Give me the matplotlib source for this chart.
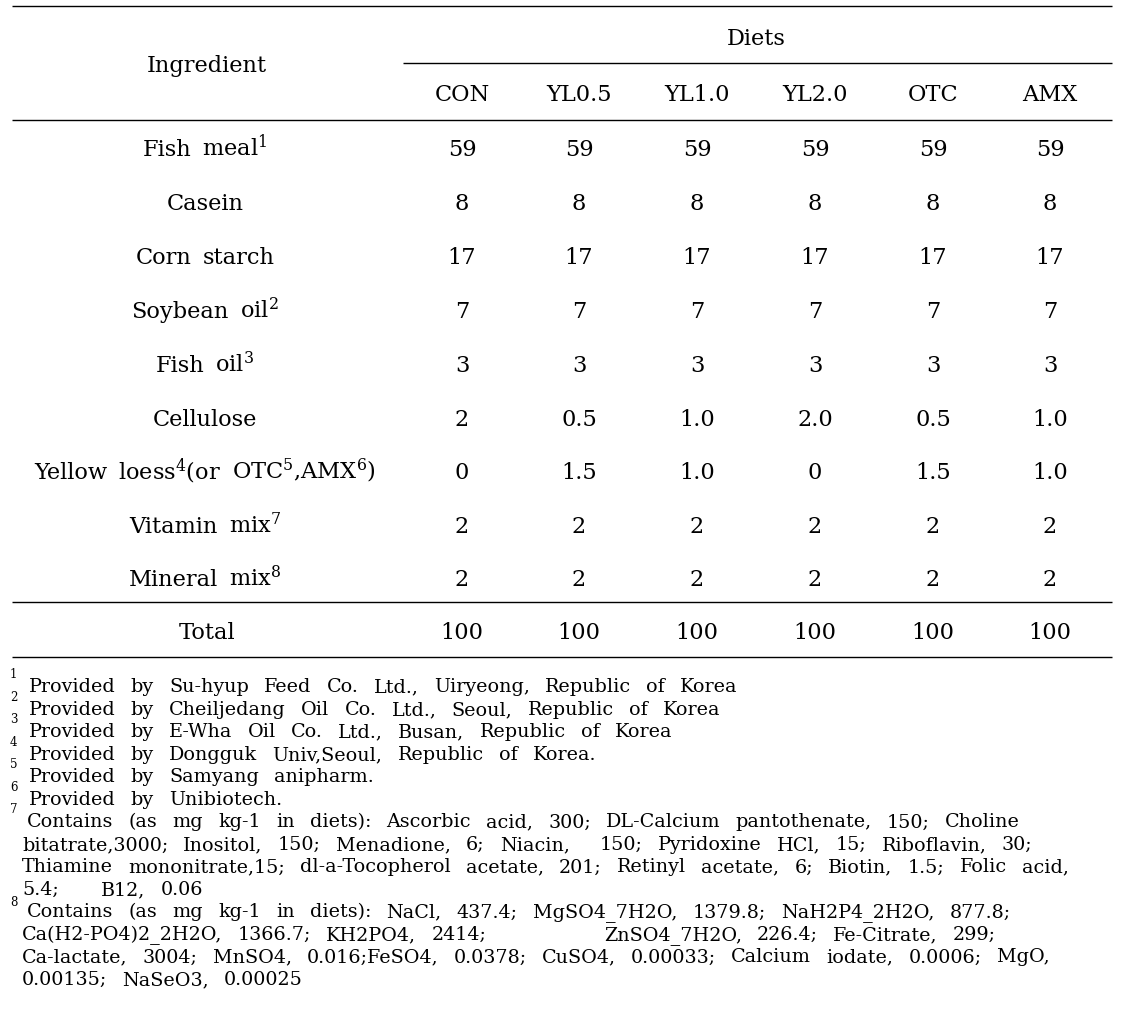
import matplotlib
matplotlib.use("Agg")
import matplotlib.pyplot as plt

plt.rcParams['font.family'] = ['DejaVu Serif']
plt.rcParams['mathtext.fontset'] = 'dejavuserif'

# ---- data ----
diets = ["CON", "YL0.5", "YL1.0", "YL2.0", "OTC", "AMX"]
ingredients = [r"Fish meal$^1$", "Casein", "Corn starch",
               r"Soybean oil$^2$", r"Fish oil$^3$", "Cellulose",
               r"Yellow loess$^4$(or OTC$^5$,AMX$^6$)",
               r"Vitamin mix$^7$", r"Mineral mix$^8$"]
con = ["59", "8", "17", "7", "3", "2", "0", "2", "2"]
yl05 = ["59", "8", "17", "7", "3", "0.5", "1.5", "2", "2"]
yl10 = ["59", "8", "17", "7", "3", "1.0", "1.0", "2", "2"]
yl20 = ["59", "8", "17", "7", "3", "2.0", "0", "2", "2"]
otc = ["59", "8", "17", "7", "3", "0.5", "1.5", "2", "2"]
amx = ["59", "8", "17", "7", "3", "1.0", "1.0", "2", "2"]
totals = ["100", "100", "100", "100", "100", "100"]

# footnotes: (marker, list of lines; each line = list of (text, x))
footnotes = [
    ("1", [[("Provided by Su-hyup Feed Co. Ltd., Uiryeong, Republic of Korea", 29)]]),
    ("2", [[("Provided by Cheiljedang Oil Co. Ltd., Seoul, Republic of Korea", 29)]]),
    ("3", [[("Provided by E-Wha Oil Co. Ltd., Busan, Republic of Korea", 29)]]),
    ("4", [[("Provided by Dongguk Univ,Seoul, Republic of Korea.", 29)]]),
    ("5", [[("Provided by Samyang anipharm.", 29)]]),
    ("6", [[("Provided by Unibiotech.", 29)]]),
    ("7", [
        [("Contains (as mg kg-1 in diets): Ascorbic acid, 300; DL-Calcium pantothenate, 150; Choline", 27)],
        [("bitatrate,3000; Inositol, 150; Menadione, 6; Niacin,", 22), ("150; Pyridoxine HCl, 15; Riboflavin, 30;", 600)],
        [("Thiamine mononitrate,15; dl-a-Tocopherol acetate, 201; Retinyl acetate, 6; Biotin, 1.5; Folic acid,", 22)],
        [("5.4;", 22), ("B12, 0.06", 101)],
    ]),
    ("8", [
        [("Contains (as mg kg-1 in diets): NaCl, 437.4; MgSO4_7H2O, 1379.8; NaH2P4_2H2O, 877.8;", 27)],
        [("Ca(H2-PO4)2_2H2O, 1366.7; KH2PO4, 2414;", 22), ("ZnSO4_7H2O, 226.4; Fe-Citrate, 299;", 604)],
        [("Ca-lactate, 3004; MnSO4, 0.016;FeSO4, 0.0378; CuSO4, 0.00033; Calcium iodate, 0.0006; MgO,", 22)],
        [("0.00135; NaSeO3, 0.00025", 22)],
    ]),
]

# ---- layout ----
W, H = 1138, 1020
fig = plt.figure(figsize=(W / 100, H / 100), dpi=100)
ax = fig.add_axes([0, 0, 1, 1])
ax.set_xlim(0, W)
ax.set_ylim(H, 0)
ax.axis("off")
renderer = fig.canvas.get_renderer()

FS = 16.2      # table font size
FFS = 13.8     # footnote font size
BODY_SPACE = 11.0


def words_line(x, y, text, fs, space, ha="left"):
    """Draw text word by word with a given inter-word gap (pixels)."""
    words = text.split(" ")
    objs = [ax.text(0, y, w, fontsize=fs, ha="left", va="baseline") for w in words]
    widths = [o.get_window_extent(renderer).width for o in objs]
    total = sum(widths) + space * (len(words) - 1)
    if ha == "center":
        x = x - total / 2
    cx = x
    for o, w in zip(objs, widths):
        o.set_x(cx)
        cx += w + space
    return objs, widths


def measure_words(text, fs):
    words = text.split(" ")
    tot = 0
    for w in words:
        t = ax.text(0, 0, w, fontsize=fs)
        tot += t.get_window_extent(renderer).width
        t.remove()
    return tot, len(words) - 1


col_x = [462, 579, 697, 815, 933, 1050]
ing_x = 205
row_y = [148, 202, 256, 310, 364, 418, 471, 525, 578]
BOFF = 8.0  # baseline offset from visual centre

lw = 1.0
for (x0, x1, yy) in [(12, 1112, 7), (403, 1112, 64), (12, 1112, 121),
                     (12, 1112, 603), (12, 1112, 658)]:
    ax.plot([x0, x1], [yy, yy], color="black", lw=lw, solid_capstyle="butt")

words_line(207, 64 + BOFF, "Ingredient", FS, BODY_SPACE, ha="center")
words_line(756, 37 + BOFF, "Diets", FS, BODY_SPACE, ha="center")
for x, d in zip(col_x, diets):
    words_line(x, 93 + BOFF, d, FS, BODY_SPACE, ha="center")

series = [con, yl05, yl10, yl20, otc, amx]
for i, (y, ing) in enumerate(zip(row_y, ingredients)):
    words_line(ing_x, y + BOFF, ing, FS, BODY_SPACE, ha="center")
    for x, s in zip(col_x, series):
        words_line(x, y + BOFF, s[i], FS, BODY_SPACE, ha="center")

words_line(207, 631 + BOFF, "Total", FS, BODY_SPACE, ha="center")
for x, t in zip(col_x, totals):
    words_line(x, 631 + BOFF, t, FS, BODY_SPACE, ha="center")

# footnote word gap calibrated so that the first line of note 7 ends near x=1020
ref_txt, ref_x = footnotes[6][1][0][0]
wsum, nsp = measure_words(ref_txt, FFS)
FN_SPACE = (1020 - ref_x - wsum) / nsp

FOFF = 6.5
fy = 686
step = 22.5
for num, lines in footnotes:
    mark_dy = -8 if num == "8" else -11
    ax.text(10, fy + mark_dy, num, fontsize=8.5, ha="left", va="center")
    for line in lines:
        for txt, x in line:
            words_line(x, fy + FOFF, txt, FFS, FN_SPACE)
        fy += step

fig.savefig("out.png", dpi=100)
